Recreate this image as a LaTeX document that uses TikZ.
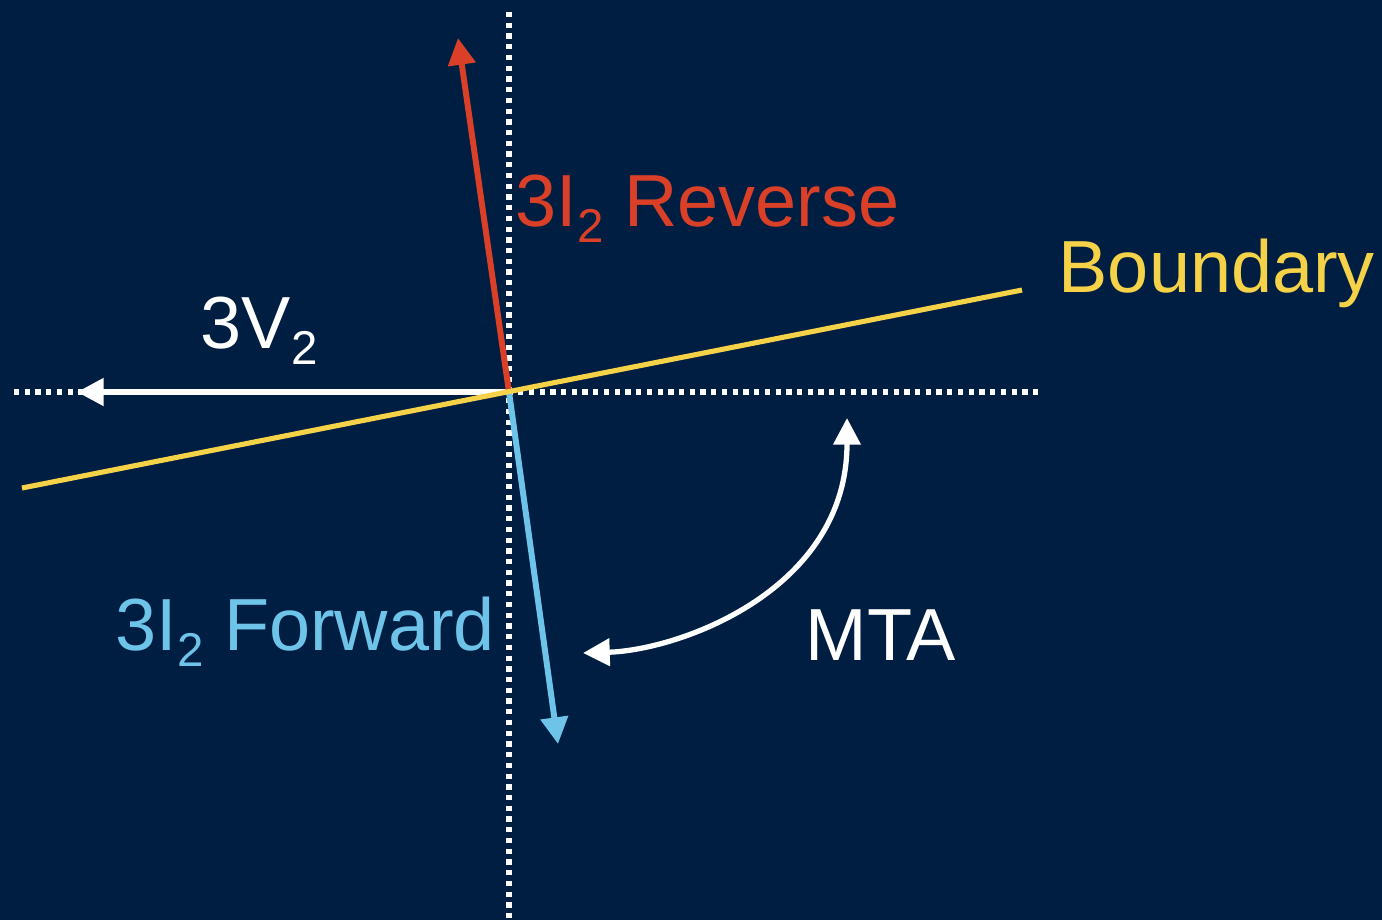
\documentclass[tikz,border=0pt]{standalone}
\usepackage{fontspec}
\setmainfont{Liberation Sans}
\usepackage{xcolor}
\usepackage{tikz}
\usetikzlibrary{arrows.meta}

\definecolor{navybg}{RGB}{0,30,65}
\definecolor{revred}{RGB}{218,64,40}
\definecolor{fwdblue}{RGB}{110,195,232}
\definecolor{bndyellow}{RGB}{246,210,72}

\newcommand{\subtwo}{\raisebox{-4.8pt}{\fontsize{13.5}{14}\selectfont 2}}

\begin{document}
\begin{tikzpicture}[
      x=0.01cm, y=-0.01cm,
      font=\fontsize{21}{25}\selectfont,
      tip/.style={-{Triangle[length=7.6pt, width=7.6pt]}},
      axis/.style={draw=white, line width=1.6pt, dash pattern=on 1.5pt off 1.55pt},
      phasor/.style={tip, line width=1.7pt},
      lbl/.style={anchor=base west, inner sep=0pt}
    ]
    \fill[navybg] (0,0) rectangle (1382,920);
    \useasboundingbox (0,0) rectangle (1382,920);

    % reference axes through the origin
    \coordinate (O) at (509,392);
    \coordinate (axtop) at (509,12);
    \coordinate (axbot) at (509,920);
    \coordinate (axleft) at (14,392);
    \coordinate (axright) at (1043,392);
    \draw[axis] (axtop) -- (axbot);
    \draw[axis] (axleft) -- (axright);

    % phasors
    \coordinate (vtip) at (77,392);
    \coordinate (revtip) at (458,38);
    \coordinate (fwdtip) at (558,744);
    \draw[phasor, white] (O) -- (vtip);
    \draw[phasor, revred] (O) -- (revtip);
    \draw[phasor, fwdblue] (O) -- (fwdtip);

    % boundary line
    \coordinate (bleft) at (22,488);
    \coordinate (bright) at (1022,290);
    \draw[bndyellow, line width=1.45pt] (bleft) -- (bright);

    % MTA arc (arrows at both ends)
    \coordinate (mtatop) at (847,418);
    \coordinate (mtabot) at (583,653);
    \draw[white, line width=1.5pt, {Triangle[length=7.6pt, width=7.6pt]}-{Triangle[length=7.6pt, width=7.6pt]}]
      (mtabot) .. controls (680,650) and (847,590) .. (mtatop);

    % labels
    \node[lbl, white] (v2) at (200,348) {3V\subtwo};
    \node[lbl, revred] (rev) at (515,226) {3I\subtwo\ Reverse};
    \node[lbl, fwdblue] (fwd) at (115,650) {3I\subtwo\ Forward};
    \node[lbl, bndyellow] (bndy) at (1058,292) {Boundary};
    \node[lbl, white] (mta) at (805,660) {MTA};
  \end{tikzpicture}
\end{document}
